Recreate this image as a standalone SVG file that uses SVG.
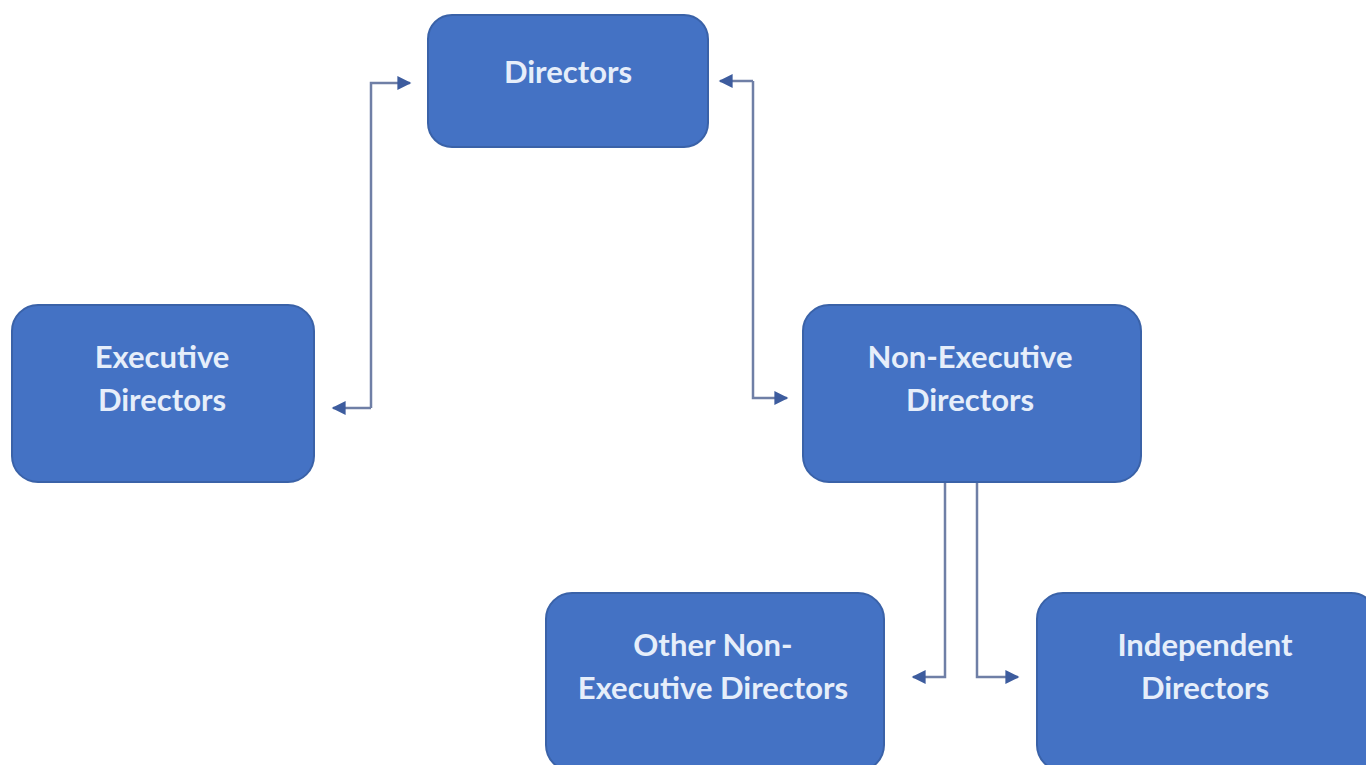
<svg xmlns="http://www.w3.org/2000/svg" width="1366" height="765" viewBox="0 0 1366 765">
<defs>
<style>
.box{fill:#4472C4;stroke:#3A62A8;stroke-width:2}
.lbl{font-family:Lato,"Open Sans","Liberation Sans",sans-serif;font-size:31px;font-weight:700;fill:#E6EEFA;text-anchor:middle}
.con{fill:none;stroke:#6F7FA6;stroke-width:2.5}
</style>
<marker id="ah" viewBox="0 0 10 10" refX="9" refY="5" markerWidth="15" markerHeight="14" markerUnits="userSpaceOnUse" orient="auto">
<path d="M0,0 L10,5 L0,10 z" fill="#3D5C9E"/>
</marker>
</defs>
<rect width="1366" height="765" fill="#FFFFFF"/>
<g id="connectors">
<polyline class="con" points="371,408 371,83 410,83" marker-end="url(#ah)"/>
<polyline class="con" points="371,408 333,408" marker-end="url(#ah)"/>
<polyline class="con" points="753,81 753,398 787,398" marker-end="url(#ah)"/>
<polyline class="con" points="753,81 720,81" marker-end="url(#ah)"/>
<polyline class="con" points="945,482 945,677 913,677" marker-end="url(#ah)"/>
<polyline class="con" points="977,482 977,677 1018,677" marker-end="url(#ah)"/>
</g>
<g id="directors">
<rect class="box" x="428" y="15" width="280" height="132" rx="24"/>
<text class="lbl" x="568" y="83">Directors</text>
</g>
<g id="executive-directors">
<rect class="box" x="12" y="305" width="302" height="177" rx="26"/>
<text class="lbl" x="162" y="368">Executive</text>
<text class="lbl" x="162" y="411">Directors</text>
</g>
<g id="non-executive-directors">
<rect class="box" x="803" y="305" width="338" height="177" rx="26"/>
<text class="lbl" x="970" y="368">Non-Executive</text>
<text class="lbl" x="970" y="411">Directors</text>
</g>
<g id="other-non-executive-directors">
<rect class="box" x="546" y="593" width="338" height="178" rx="26"/>
<text class="lbl" x="713" y="656">Other Non-</text>
<text class="lbl" x="713" y="699">Executive Directors</text>
</g>
<g id="independent-directors">
<rect class="box" x="1037" y="593" width="340" height="178" rx="26"/>
<text class="lbl" x="1205" y="656">Independent</text>
<text class="lbl" x="1205" y="699">Directors</text>
</g>
</svg>
